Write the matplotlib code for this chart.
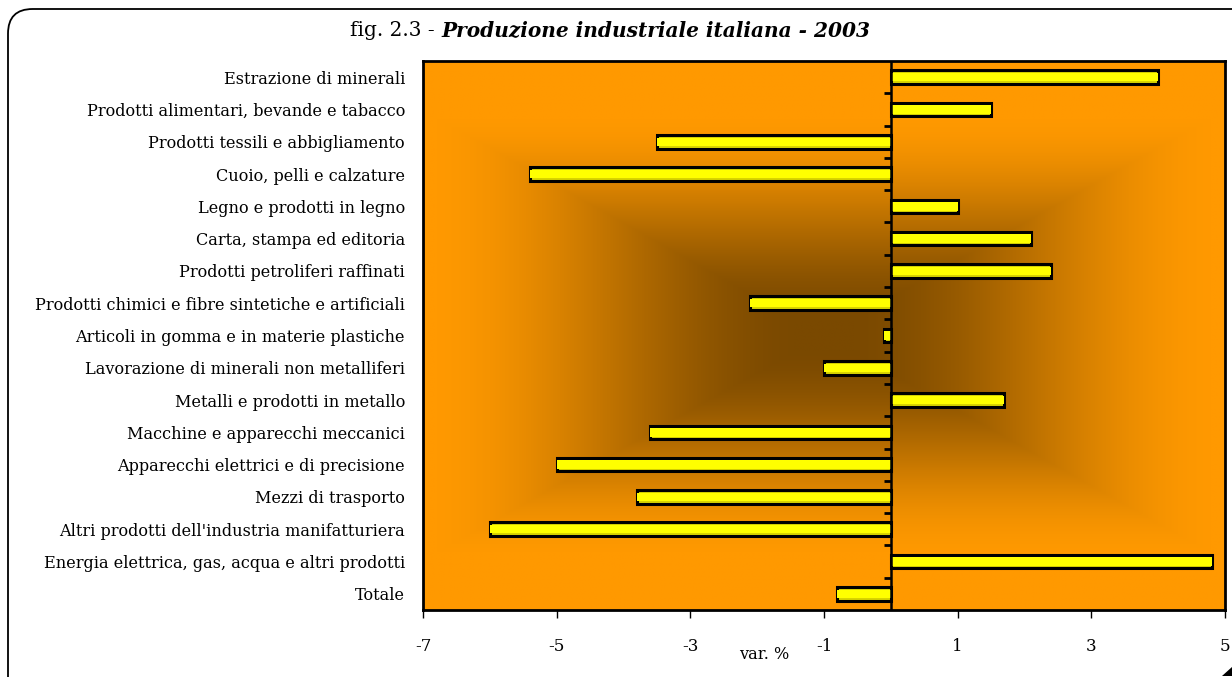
import numpy as np
import matplotlib
matplotlib.use("Agg")
import matplotlib.pyplot as plt
from matplotlib.patches import FancyBboxPatch, Polygon
from matplotlib.colors import LinearSegmentedColormap

categories = [
    "Estrazione di minerali",
    "Prodotti alimentari, bevande e tabacco",
    "Prodotti tessili e abbigliamento",
    "Cuoio, pelli e calzature",
    "Legno e prodotti in legno",
    "Carta, stampa ed editoria",
    "Prodotti petroliferi raffinati",
    "Prodotti chimici e fibre sintetiche e artificiali",
    "Articoli in gomma e in materie plastiche",
    "Lavorazione di minerali non metalliferi",
    "Metalli e prodotti in metallo",
    "Macchine e apparecchi meccanici",
    "Apparecchi elettrici e di precisione",
    "Mezzi di trasporto",
    "Altri prodotti dell'industria manifatturiera",
    "Energia elettrica, gas, acqua e altri prodotti",
    "Totale",
]
values = [4.0, 1.5, -3.5, -5.4, 1.0, 2.1, 2.4, -2.1, -0.1, -1.0, 1.7,
          -3.6, -5.0, -3.8, -6.0, 4.8, -0.8]
xticks = [-7, -5, -3, -1, 1, 3, 5]
xlim = (-7, 5)

FONT = "DejaVu Serif"
FS = 11.6

fig = plt.figure(figsize=(12.32, 6.77), dpi=100)
fig.patch.set_facecolor("white")

# rounded frame (top-left corner visible, right/bottom run off the page)
frame = FancyBboxPatch((8 / 1232, -0.2), 1.2, 1.2 - 9 / 677,
                       boxstyle="round,pad=0,rounding_size=0.02",
                       transform=fig.transFigure, facecolor="none",
                       edgecolor="black", linewidth=1.3,
                       mutation_aspect=1232 / 677)
fig.patches.append(frame)
corner = Polygon([(1232 / 1232, 10 / 677), (1232 / 1232, 1 / 677), (1222 / 1232, 1 / 677)],
                 closed=True, transform=fig.transFigure, facecolor="black",
                 edgecolor="none")
fig.patches.append(corner)

ax = fig.add_axes([423 / 1232, 1 - 610 / 677, (1225 - 423) / 1232, (610 - 61) / 677])

# background gradient (rectangular, from centre, smooth)
n = 500
u = np.linspace(-1, 1, n)
U, V = np.meshgrid(u, u)
t = np.maximum(np.abs(U) / 1.0, np.abs(V) / 0.82)
t = np.clip((t - 0.04) / 0.96, 0, 1)
t = t * t * (3 - 2 * t)
cmap = LinearSegmentedColormap.from_list("bg", ["#7A4900", "#FF9900"])
ax.imshow(t, cmap=cmap, extent=[0, 1, 0, 1], transform=ax.transAxes,
          aspect="auto", zorder=0, interpolation="bilinear")

y = np.arange(len(categories))
ax.barh(y, values, height=0.42, color="#D8D400", edgecolor="black",
        linewidth=2.2, zorder=3)
ax.barh(y, values, height=0.26, color="#FFFF00", edgecolor="none",
        linewidth=0, zorder=4)

ax.set_xlim(*xlim)
ax.set_ylim(len(categories) - 0.5, -0.5)
ax.axvline(0, color="black", linewidth=1.8, zorder=5)
bounds = np.arange(len(categories) - 1) + 0.5
ax.hlines(bounds, -0.1, 0, color="black", linewidth=2, zorder=5)

ax.set_yticks(y)
ax.set_yticklabels(categories, fontfamily=FONT, fontsize=FS)
ax.tick_params(axis="y", length=0, pad=13)
ax.set_xticks(xticks)
ax.set_xticklabels([str(v) for v in xticks], fontfamily=FONT, fontsize=FS + 0.5)
ax.tick_params(axis="x", length=6, width=1, direction="out", pad=14)
for s in ax.spines.values():
    s.set_linewidth(2)
ax.set_xlabel("var. %", fontfamily=FONT, fontsize=FS)
ax.xaxis.set_label_coords(0.425, -0.065)

TFS = 14.5
fig.text(441 / 1232, 1 - 30 / 677, "fig. 2.3 - ", ha="right", va="center",
         fontfamily=FONT, fontsize=TFS)
fig.text(441 / 1232, 1 - 30 / 677, "Produzione industriale italiana - 2003",
         ha="left", va="center", fontfamily=FONT, fontsize=TFS,
         fontweight="bold", fontstyle="italic")

fig.savefig("out.png", dpi=100, facecolor="white")
